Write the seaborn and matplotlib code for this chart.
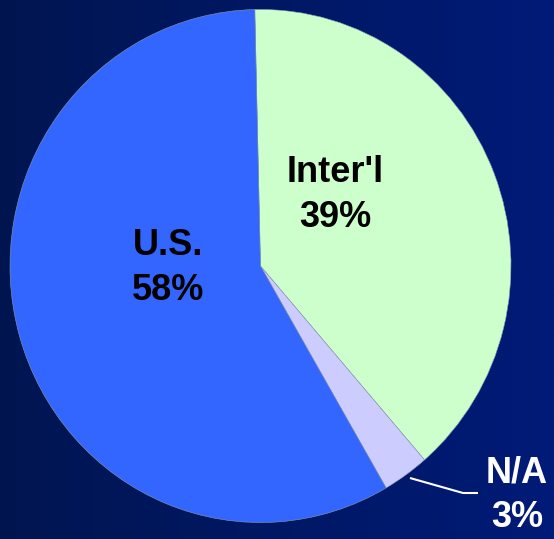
import numpy as np
import matplotlib
matplotlib.use("Agg")
import matplotlib.pyplot as plt
import seaborn as sns
from matplotlib.colors import LinearSegmentedColormap

categories = ["Inter'l", "N/A", "U.S."]
shares = [39, 3, 58]
colors = ["#CCFFCC", "#CCCCFF", "#3366FF"]

sns.set_theme(style="white")
plt.rcParams['font.family'] = ['Liberation Sans', 'DejaVu Sans']

W, H = 554, 539
k = 1.024  # vertical stretch of the pie
fig = plt.figure(figsize=(W / 100, H / 100), dpi=100)
ax = fig.add_axes([0, 0, 1, 1])

def Y(py):
    # pixel row (from top) -> data y
    return (H - py) / k

# background gradient
grad = np.linspace(0, 1, 256).reshape(1, -1)
cmap = LinearSegmentedColormap.from_list("bg", ["#001550", "#001b78"])
ax.imshow(grad, extent=[0, W, 0, H / k], aspect='auto', cmap=cmap, zorder=0)

ax.pie(shares, colors=colors, startangle=91.3, counterclock=False,
       center=(260.5, Y(266)), radius=250.5, frame=True,
       wedgeprops=dict(linewidth=0.4, edgecolor="#8a9ab0"))
ax.set_xlim(0, W)
ax.set_ylim(0, H / k)
ax.set_aspect('auto')
ax.axis('off')

fs = 26
ax.text(335, Y(195), f"{categories[0]}\n{shares[0]}%", ha='center', va='center',
        fontsize=fs, fontweight='bold', color='black', linespacing=1.35, zorder=5)
ax.text(168, Y(268), f"{categories[2]}\n{shares[2]}%", ha='center', va='center',
        fontsize=fs, fontweight='bold', color='black', linespacing=1.35, zorder=5)
ax.text(517, Y(495), f"{categories[1]}\n{shares[1]}%", ha='center', va='center',
        fontsize=fs, fontweight='bold', color='white', linespacing=1.35, zorder=5)
ax.plot([410, 463, 478], [Y(478), Y(493), Y(493)], color='white', lw=1.5, zorder=5,
        solid_capstyle='butt')

fig.savefig("out.png", dpi=100)
